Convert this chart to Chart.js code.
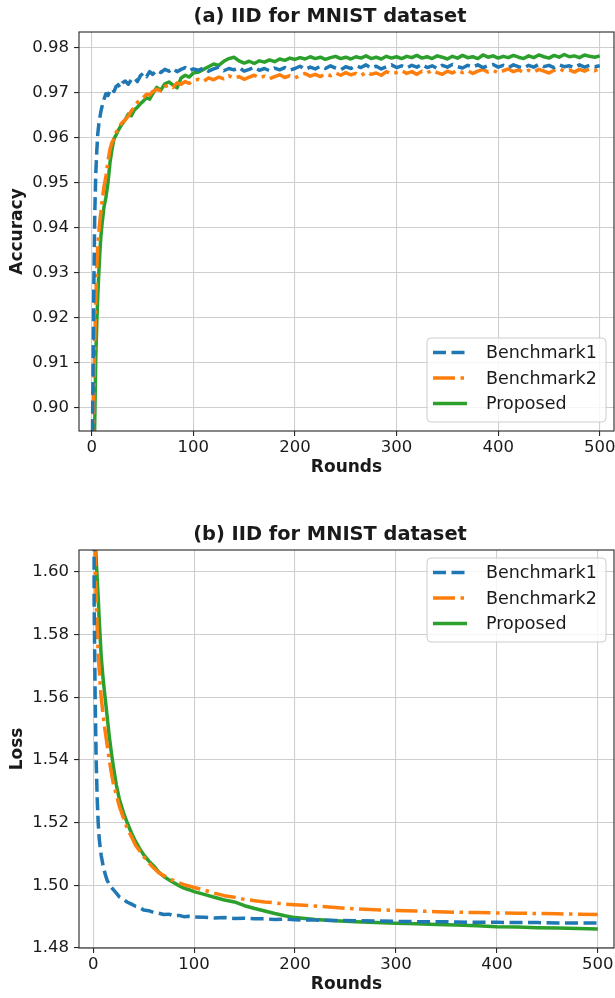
<!DOCTYPE html>
<html><head><meta charset="utf-8">
<script src="https://cdn.jsdelivr.net/npm/chart.js@4.4.0/dist/chart.umd.min.js"></script>
<style>
html,body{margin:0;padding:0;background:#fff;}
#wrap{position:relative;width:615px;height:998px;overflow:hidden;background:#fff;}
canvas{position:absolute;left:0;}
</style></head><body>
<div id="wrap">
<canvas id="c1" width="615" height="500" style="top:0px"></canvas>
<canvas id="c2" width="615" height="498" style="top:500px"></canvas>
</div>
<script>
// ---------------- data ----------------
const SERIES_NAMES = ['Benchmark1', 'Benchmark2', 'Proposed'];
const TITLE_A = '(a) IID for MNIST dataset';
const TITLE_B = '(b) IID for MNIST dataset';
const X_LABEL = 'Rounds';
const Y_LABEL_A = 'Accuracy';
const Y_LABEL_B = 'Loss';
const X_TICKS = [0, 100, 200, 300, 400, 500];
const ACC_TICKS = [0.90, 0.91, 0.92, 0.93, 0.94, 0.95, 0.96, 0.97, 0.98];
const LOSS_TICKS = [1.48, 1.50, 1.52, 1.54, 1.56, 1.58, 1.60];

const ACC_ROUNDS = [0,1,2,3,4,5,6,7,8,9,10,12,14,16,18,20,22,24,26,28,30,33,36,39,42,45,48,51,54,57,60,64,68,72,76,80,84,88,92,96,100,
105,110,115,120,125,130,135,140,145,150,155,160,165,170,175,180,185,190,195,200,
205,210,215,220,225,230,235,240,245,250,255,260,265,270,275,280,285,290,295,300,
305,310,315,320,325,330,335,340,345,350,355,360,365,370,375,380,385,390,395,400,
405,410,415,420,425,430,435,440,445,450,455,460,465,470,475,480,485,490,495,500];

const ACC_B1 = [0.870,0.900,0.925,0.943,0.952,0.957,0.961,0.963,0.9645,0.9658,0.9668,0.9685,0.9698,0.9694,0.9705,0.9709,0.9703,0.9714,0.9718,0.9712,0.9722,0.9726,0.9719,0.9729,0.9733,0.9725,0.9738,0.9744,0.9736,0.9747,0.9741,0.9750,0.9745,0.9752,0.9748,0.9754,0.9747,0.9752,0.9756,0.9749,0.9753,
0.9750,0.9755,0.9748,0.9753,0.9757,0.9749,0.9754,0.9751,0.9756,0.9748,0.9752,0.9757,0.9750,0.9754,0.9749,0.9755,0.9751,0.9756,0.9750,0.9754,
0.9759,0.9752,0.9757,0.9753,0.9759,0.9754,0.9760,0.9755,0.9751,0.9758,0.9754,0.9760,0.9756,0.9762,0.9755,0.9759,0.9753,0.9758,0.9762,0.9756,
0.9760,0.9755,0.9761,0.9757,0.9763,0.9756,0.9760,0.9754,0.9761,0.9757,0.9763,0.9758,0.9755,0.9761,0.9757,0.9762,0.9756,0.9760,0.9763,0.9757,
0.9761,0.9756,0.9762,0.9758,0.9755,0.9761,0.9757,0.9763,0.9758,0.9761,0.9756,0.9762,0.9758,0.9760,0.9756,0.9762,0.9757,0.9761,0.9758,0.9760];

const ACC_B2 = [0.850,0.880,0.903,0.915,0.924,0.931,0.936,0.939,0.9415,0.9435,0.9455,0.9490,0.9515,0.9548,0.9575,0.9590,0.9598,0.9612,0.9618,0.9628,0.9634,0.9640,0.9648,0.9660,0.9668,0.9679,0.9684,0.9690,0.9697,0.9695,0.9703,0.9708,0.9704,0.9714,0.9717,0.9712,0.9722,0.9719,0.9725,0.9721,0.9727,
0.9730,0.9725,0.9733,0.9729,0.9735,0.9731,0.9738,0.9732,0.9736,0.9730,0.9735,0.9739,0.9733,0.9737,0.9731,0.9736,0.9740,0.9734,0.9738,0.9733,
0.9739,0.9743,0.9737,0.9741,0.9736,0.9742,0.9738,0.9744,0.9739,0.9745,0.9740,0.9743,0.9738,0.9746,0.9741,0.9744,0.9739,0.9747,0.9742,0.9745,
0.9749,0.9743,0.9747,0.9741,0.9748,0.9744,0.9750,0.9745,0.9741,0.9748,0.9744,0.9750,0.9745,0.9749,0.9743,0.9748,0.9752,0.9746,0.9750,0.9744,
0.9749,0.9753,0.9747,0.9751,0.9745,0.9750,0.9746,0.9752,0.9748,0.9744,0.9750,0.9754,0.9748,0.9751,0.9746,0.9752,0.9748,0.9753,0.9749,0.9755];

const ACC_PROP = [0.840,0.865,0.883,0.897,0.911,0.919,0.925,0.930,0.9345,0.9380,0.9405,0.9445,0.9468,0.9500,0.9545,0.9575,0.9598,0.9606,0.9616,0.9624,0.9631,0.9640,0.9653,0.9649,0.9662,0.9668,0.9676,0.9682,0.9689,0.9686,0.9698,0.9712,0.9706,0.9720,0.9724,0.9717,0.9711,0.9733,0.9739,0.9735,0.9744,
0.9746,0.9752,0.9758,0.9764,0.9761,0.9770,0.9776,0.9779,0.9771,0.9766,0.9770,0.9765,0.9771,0.9768,0.9773,0.9769,0.9775,0.9772,0.9777,0.9774,
0.9778,0.9775,0.9780,0.9776,0.9779,0.9774,0.9778,0.9781,0.9776,0.9779,0.9775,0.9780,0.9777,0.9782,0.9776,0.9779,0.9775,0.9781,0.9777,0.9780,
0.9776,0.9781,0.9778,0.9783,0.9777,0.9780,0.9776,0.9782,0.9779,0.9775,0.9781,0.9777,0.9783,0.9778,0.9780,0.9776,0.9784,0.9779,0.9782,0.9777,
0.9781,0.9778,0.9783,0.9779,0.9776,0.9782,0.9778,0.9784,0.9780,0.9777,0.9783,0.9779,0.9785,0.9780,0.9782,0.9778,0.9784,0.9781,0.9779,0.9782];

const LOSS_ROUNDS = [0,1,2,3,4,5,6,7,8,10,12,14,16,18,20,23,26,30,34,38,42,46,50,55,60,65,70,75,80,85,90,95,100,110,120,130,140,150,160,170,180,190,200,220,240,260,280,300,320,340,360,380,400,420,440,460,480,500];

const LOSS_B1 = [1.900,1.590,1.560,1.540,1.528,1.520,1.515,1.512,1.5095,1.5060,1.5035,1.5015,1.5003,1.4994,1.4986,1.4975,1.4963,1.4955,1.4946,1.4940,1.4933,1.4929,1.4921,1.4919,1.4913,1.4911,1.4907,1.4908,1.4903,1.4904,1.4900,1.4901,1.4899,1.4898,1.4896,1.4897,1.4894,1.4895,1.4893,1.4893,1.4891,1.4892,1.4890,1.4889,1.4888,1.4887,1.4886,1.4885,1.4884,1.4884,1.4883,1.4882,1.4882,1.4881,1.4881,1.4880,1.4880,1.4880];

const LOSS_B2 = [1.900,1.660,1.605,1.591,1.582,1.574,1.569,1.564,1.560,1.554,1.549,1.5445,1.540,1.536,1.5325,1.5288,1.5252,1.5215,1.518,1.5155,1.5128,1.511,1.5092,1.5072,1.5055,1.5040,1.5031,1.5022,1.5015,1.5008,1.5002,1.4998,1.4993,1.4985,1.4975,1.4967,1.4962,1.4955,1.4951,1.4947,1.4944,1.4940,1.4938,1.4934,1.4929,1.4925,1.4922,1.4920,1.4918,1.4916,1.4914,1.4913,1.4912,1.4911,1.4910,1.4909,1.4908,1.4907];

const LOSS_PROP = [1.950,1.700,1.612,1.604,1.598,1.592,1.585,1.579,1.573,1.5655,1.5595,1.5535,1.5475,1.5425,1.538,1.532,1.5275,1.5232,1.5198,1.5167,1.514,1.5118,1.5098,1.5078,1.5062,1.5042,1.5028,1.5018,1.5008,1.4999,1.4991,1.4986,1.4980,1.4971,1.4962,1.4953,1.4947,1.4935,1.4926,1.4918,1.4910,1.4903,1.4897,1.4891,1.4887,1.4884,1.4881,1.4879,1.4877,1.4875,1.4873,1.4871,1.4868,1.4867,1.4865,1.4864,1.4862,1.4861];

// ---------------- styling ----------------
const FONT = "'DejaVu Sans', sans-serif";
const COLORS = ['#1f77b4', '#ff7f0e', '#2ca02c'];
const DASHES = [[13, 5.5], [22, 5.5, 3.5, 5.5], []];
const TEXT = '#1a1a1a';

function makeDatasets(rounds, arrs) {
  return arrs.map((a, i) => ({
    label: SERIES_NAMES[i],
    data: rounds.map((r, j) => ({x: r, y: a[j]})),
    borderColor: COLORS[i],
    backgroundColor: COLORS[i],
    borderWidth: 3.5,
    borderDash: DASHES[i],
    borderJoinStyle: 'round',
    pointRadius: 0,
    tension: 0,
    fill: false,
    clip: 0
  }));
}

const panelPlugin = {
  id: 'panel',
  afterDraw(chart, args, opts) {
    const ctx = chart.ctx, a = chart.chartArea;
    ctx.save();
    // frame (spines)
    ctx.strokeStyle = '#262626';
    ctx.lineWidth = 1.1;
    ctx.strokeRect(a.left, a.top, a.right - a.left, a.bottom - a.top);
    // title
    ctx.fillStyle = TEXT;
    ctx.font = 'bold 19.4px ' + FONT;
    ctx.textAlign = 'center';
    ctx.textBaseline = 'middle';
    ctx.fillText(opts.title, opts.titleX, opts.titleY);
    // legend
    const L = opts.legend;
    ctx.beginPath();
    if (ctx.roundRect) ctx.roundRect(L.x, L.y, L.w, L.h, 4); else ctx.rect(L.x, L.y, L.w, L.h);
    ctx.fillStyle = 'rgba(255,255,255,0.8)';
    ctx.fill();
    ctx.strokeStyle = '#cccccc';
    ctx.lineWidth = 1;
    ctx.stroke();
    chart.data.datasets.forEach((ds, i) => {
      const yy = L.y + L.rows[i];
      ctx.beginPath();
      ctx.setLineDash(ds.borderDash || []);
      ctx.strokeStyle = ds.borderColor;
      ctx.lineWidth = ds.borderWidth;
      ctx.moveTo(L.x + 6, yy);
      ctx.lineTo(L.x + 40, yy);
      ctx.stroke();
      ctx.setLineDash([]);
      ctx.fillStyle = TEXT;
      ctx.font = '17.5px ' + FONT;
      ctx.textAlign = 'left';
      ctx.textBaseline = 'middle';
      ctx.fillText(ds.label, L.x + 59, yy + 1);
    });
    ctx.restore();
  }
};

function axisOpts(cfg) {
  return {
    x: {
      type: 'linear', min: cfg.xmin, max: cfg.xmax,
      afterBuildTicks: s => { s.ticks = X_TICKS.map(v => ({value: v})); },
      afterFit: s => { s.height = cfg.xAxisH; s.paddingLeft = 0; s.paddingRight = 0; },
      grid: {color: '#cfcfcf', lineWidth: 1.1, tickLength: 5, tickColor: '#262626', tickWidth: 1.1},
      border: {display: false},
      ticks: {font: {family: FONT, size: 16.5}, color: TEXT, padding: 2, maxRotation: 0, autoSkip: false,
              callback: v => String(v)},
      title: {display: true, text: X_LABEL, color: TEXT,
              font: {family: FONT, size: 17, weight: 'bold'}, padding: {top: 0, bottom: cfg.xTitlePad}}
    },
    y: {
      type: 'linear', min: cfg.ymin, max: cfg.ymax,
      afterBuildTicks: s => { s.ticks = cfg.yTicks.map(v => ({value: v})); },
      afterFit: s => { s.width = 79; s.paddingTop = 0; s.paddingBottom = 0; },
      grid: {color: '#cfcfcf', lineWidth: 1.1, tickLength: 5, tickColor: '#262626', tickWidth: 1.1},
      border: {display: false},
      ticks: {font: {family: FONT, size: 16.5}, color: TEXT, padding: 5, autoSkip: false,
              callback: v => Number(v).toFixed(2)},
      title: {display: true, text: cfg.yLabel, color: TEXT,
              font: {family: FONT, size: 17, weight: 'bold'}, padding: {top: 7, bottom: 0}}
    }
  };
}

function makeChart(id, datasets, cfg) {
  return new Chart(document.getElementById(id), {
    type: 'line',
    data: {datasets},
    options: {
      responsive: false, animation: false, devicePixelRatio: 1,
      layout: {padding: {top: cfg.padTop, right: 1, left: 0, bottom: 0}},
      scales: axisOpts(cfg),
      plugins: {
        legend: {display: false}, tooltip: {enabled: false},
        panel: {title: cfg.title, titleX: 330, titleY: cfg.titleY, legend: cfg.legend}
      }
    },
    plugins: [panelPlugin]
  });
}

makeChart('c1', makeDatasets(ACC_ROUNDS, [ACC_B1, ACC_B2, ACC_PROP]), {
  xmin: -12.5, xmax: 514, ymin: 0.8949, ymax: 0.9835, yTicks: ACC_TICKS,
  padTop: 32, xAxisH: 69, xTitlePad: 22, yLabel: Y_LABEL_A,
  title: TITLE_A, titleY: 17,
  legend: {x: 427, y: 338, w: 179, h: 84, rows: [14.5, 40, 65.5]}
});

makeChart('c2', makeDatasets(LOSS_ROUNDS, [LOSS_B1, LOSS_B2, LOSS_PROP]), {
  xmin: -14, xmax: 516, ymin: 1.48, ymax: 1.607, yTicks: LOSS_TICKS,
  padTop: 50, xAxisH: 50, xTitlePad: 3, yLabel: Y_LABEL_B,
  title: TITLE_B, titleY: 35,
  legend: {x: 427, y: 58, w: 179, h: 84, rows: [14.5, 40, 65.5]}
});
</script>
</body></html>
